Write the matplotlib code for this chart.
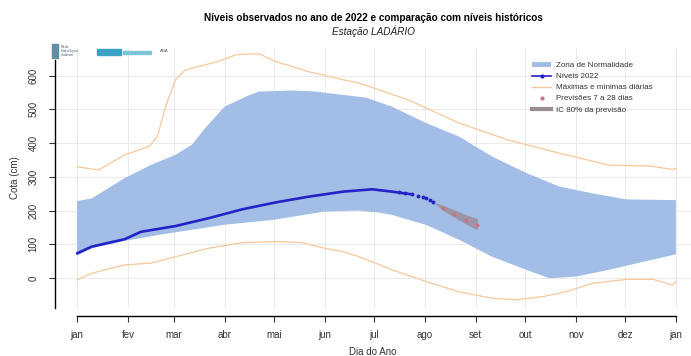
"""Níveis observados 2022 x níveis históricos - Estação Ladário."""

import matplotlib
matplotlib.use("Agg")
import matplotlib.pyplot as plt
from matplotlib.lines import Line2D
from matplotlib.patches import Patch, Rectangle

plt.rcParams["font.family"] = ["Liberation Sans", "DejaVu Sans"]

# --- data ----------------------------------------------------------------
month_days = [1, 32, 60, 91, 121, 152, 182, 213, 244, 274, 305, 335, 366]
month_labels = ["jan", "fev", "mar", "abr", "mai", "jun", "jul",
                "ago", "set", "out", "nov", "dez", "jan"]
y_ticks = [0, 100, 200, 300, 400, 500, 600]

band_up_days = [1, 10, 30, 46, 61, 71, 79, 91, 104, 112, 132, 146, 163, 177,
                193, 214, 234, 254, 275, 295, 315, 336, 364, 366]
band_up_vals = [228, 236, 296, 335, 365, 395, 444, 508, 538, 553, 556, 553,
                543, 535, 508, 459, 419, 360, 311, 271, 251, 233, 231, 231]
band_lo_days = [1, 10, 30, 51, 71, 91, 120, 152, 173, 185, 193, 214, 234,
                254, 275, 289, 305, 325, 346, 364, 366]
band_lo_vals = [66, 88, 110, 128, 143, 158, 172, 197, 200, 194, 187, 157,
                113, 63, 24, -1, 4, 24, 48, 68, 70]

max_days = [1, 14, 30, 45, 50, 55, 61, 67, 79, 87, 98, 112, 122, 142, 163,
            173, 185, 203, 234, 264, 295, 325, 350, 364, 366]
max_vals = [330, 320, 365, 390, 420, 508, 588, 617, 632, 642, 662, 665, 642,
            612, 588, 578, 558, 528, 459, 409, 370, 335, 332, 322, 325]
min_days = [1, 10, 30, 46, 61, 81, 102, 122, 138, 152, 163, 173, 185, 193,
            214, 234, 254, 268, 285, 299, 315, 336, 352, 364, 366]
min_vals = [-6, 14, 39, 44, 63, 88, 105, 108, 105, 88, 78, 63, 40, 24, -11,
            -41, -60, -65, -55, -41, -16, -4, -4, -21, -10]

obs_days = [1, 10, 30, 40, 61, 81, 102, 122, 142, 163, 181, 193, 205]
obs_vals = [73, 93, 115, 137, 154, 177, 204, 224, 241, 256, 263, 256, 248]
obs_tail_days = [197, 201, 205, 209, 212, 214, 216, 218]
obs_tail_vals = [254, 252, 248, 244, 239, 236, 230, 225]

fc_days = [224, 231, 238, 245]
fc_vals = [208, 190, 173, 157]
ic_days = [218, 224, 231, 238, 245]
ic_up = [225, 216, 202, 188, 176]
ic_lo = [225, 200, 180, 160, 143]

# --- colours ---------------------------------------------------------------
C_BAND = "#a2bde6"
C_OBS = "#2323c8"
C_MINMAX = "#f6c89a"
C_FC = "#d07080"
C_IC = "#9a8c95"

W, H = 691, 356
fig = plt.figure(figsize=(W / 100, H / 100), dpi=100)
ax = fig.add_axes([55 / W, 1 - 308 / H, (W - 55) / W, (308 - 48) / H])

for d in month_days:
    ax.axvline(d, color="#e6e6e6", lw=0.6, zorder=0)
for v in y_ticks:
    ax.axhline(v, color="#e6e6e6", lw=0.6, zorder=0)

ax.fill(band_up_days + band_lo_days[::-1], band_up_vals + band_lo_vals[::-1],
        color=C_BAND, lw=0, zorder=1)
ax.plot(max_days, max_vals, color=C_MINMAX, lw=0.9, zorder=2)
ax.plot(min_days, min_vals, color=C_MINMAX, lw=0.9, zorder=2)
ax.plot(obs_days, obs_vals, color=C_OBS, lw=1.9, solid_capstyle="round", zorder=3)
ax.plot(obs_tail_days, obs_tail_vals, color=C_OBS, ls="none", marker="o",
        ms=1.8, zorder=3)
ax.fill_between(ic_days, ic_lo, ic_up, color=C_IC, alpha=0.8, lw=0, zorder=4)
ax.plot(fc_days, fc_vals, color=C_FC, ls="none", marker="o", ms=1.8, zorder=5)

ax.set_xlim(-12.4, 375.2)
ax.set_ylim(-89, 682)

ax.spines["top"].set_visible(False)
ax.spines["right"].set_visible(False)
ax.spines["bottom"].set_position(("outward", 6))
ax.spines["bottom"].set_bounds(1, 366)
ax.spines["left"].set_bounds(-89, 647)
ax.spines["bottom"].set_linewidth(1.0)
ax.spines["left"].set_linewidth(1.0)

ax.set_xticks(month_days)
ax.set_xticklabels(month_labels, fontsize=7)
ax.set_yticks(y_ticks)
ax.set_yticklabels([str(v) for v in y_ticks], fontsize=7, rotation=90, va="center")
ax.tick_params(axis="both", length=4, width=0.8, color="#333333", labelcolor="#333333")
ax.tick_params(axis="x", pad=6)
ax.tick_params(axis="y", pad=8)

ax.set_xlabel("Dia do Ano", fontsize=7, color="#333333", labelpad=5)
ax.set_ylabel("Cota (cm)", fontsize=7, color="#333333", labelpad=6)

fig.text(373 / W, 1 - 18 / H, "Níveis observados no ano de 2022 e comparação com níveis históricos",
         ha="center", va="center", fontsize=7.2, fontweight="bold")
fig.text(373 / W, 1 - 31 / H, "Estação LADÁRIO", ha="center", va="center",
         fontsize=7.2, style="italic", color="#222222")

# logos strip (rough stand-in)
fig.patches.append(Rectangle((52 / W, 1 - 58 / H), 6 / W, 14 / H,
                             transform=fig.transFigure, color="#5f8fa0"))
fig.text(61 / W, 1 - 51 / H, "Rede\nHidrológica\nSudeste", fontsize=2.6,
         color="#3d6070", va="center", linespacing=0.9)
fig.patches.append(Rectangle((97 / W, 1 - 55 / H), 24 / W, 6 / H,
                             transform=fig.transFigure, color="#3aa3c4"))
fig.patches.append(Rectangle((123 / W, 1 - 54 / H), 28 / W, 3 / H,
                             transform=fig.transFigure, color="#7cc3d6"))
fig.text(160 / W, 1 - 51 / H, "ANA", fontsize=3, color="#555555", va="center")

handles = [
    Patch(facecolor=C_BAND, edgecolor="none", label="Zona de Normalidade"),
    Line2D([], [], color=C_OBS, lw=1.2, marker="o", ms=2, label="Níveis 2022"),
    Line2D([], [], color=C_MINMAX, lw=1.0, label="Máximas e mínimas diárias"),
    Line2D([], [], color=C_FC, ls="none", marker="o", ms=2, label="Previsões 7 a 28 dias"),
    Line2D([], [], color=C_IC, lw=3, label="IC 80% da previsão"),
]
fig.legend(handles=handles, loc="upper left", bbox_to_anchor=(528 / W, 1 - 58 / H),
           frameon=False, fontsize=5.8, handlelength=2.4, handleheight=0.6,
           labelspacing=0.45, borderpad=0, handletextpad=0.6, labelcolor="#333333")

fig.savefig("out.png", dpi=100, facecolor="white")
